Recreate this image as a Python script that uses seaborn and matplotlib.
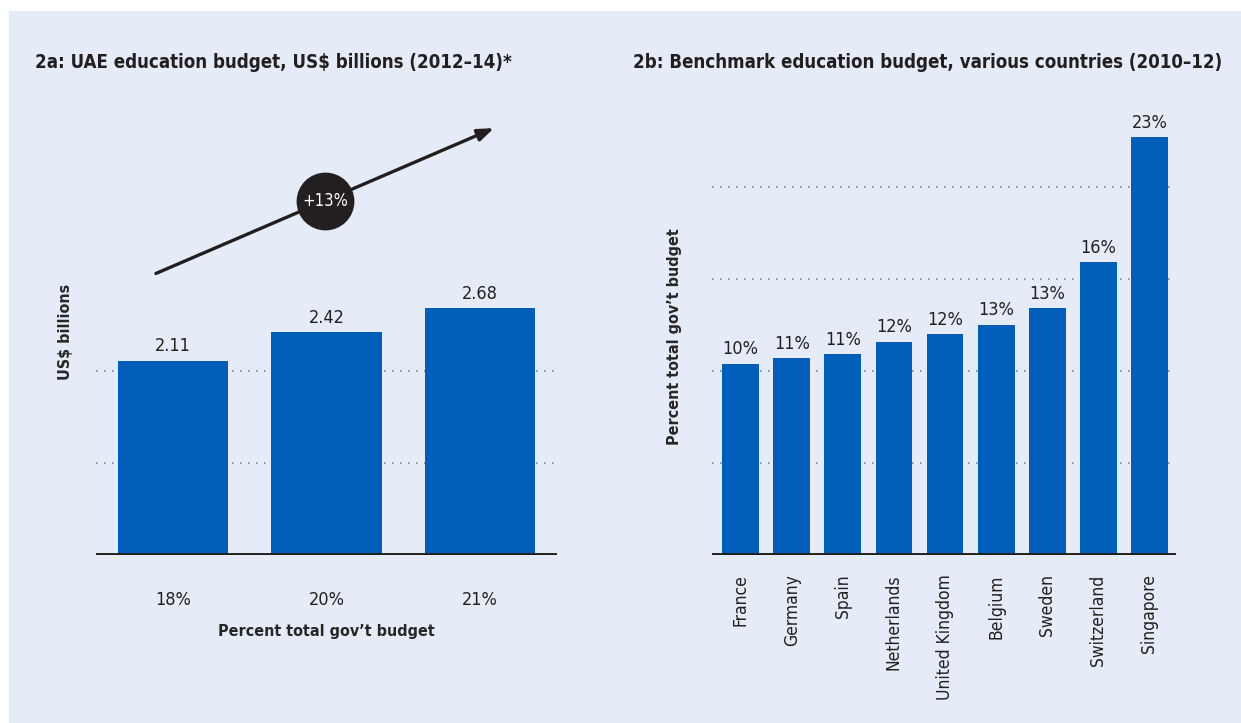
import matplotlib
matplotlib.use("Agg")
import matplotlib.pyplot as plt
from matplotlib.patches import Rectangle
import seaborn as sns

# 2a: UAE education budget
uae_years = ["2012", "2013", "2014"]
uae_budget = [2.11, 2.42, 2.68]
uae_share = ["18%", "20%", "21%"]

# 2b: benchmark countries
countries = ["France", "Germany", "Spain", "Netherlands", "United Kingdom",
             "Belgium", "Sweden", "Switzerland", "Singapore"]
country_share = [10.4, 10.7, 10.9, 11.6, 12.0, 12.5, 13.4, 15.9, 22.7]
country_labels = ["10%", "11%", "11%", "12%", "12%", "13%", "13%", "16%", "23%"]

BLUE = "#005eb8"
INK = "#231f20"
PANEL = "#e5ecf7"
GRID = "#8e939b"

sns.set_theme(style="white")
plt.rcParams["font.family"] = ["DejaVu Sans"]
plt.rcParams["font.stretch"] = "condensed"
plt.rcParams["text.color"] = INK

W, H = 1241, 723
fig = plt.figure(figsize=(W / 100, H / 100), dpi=100, facecolor="white")
fig.patches.append(Rectangle((9 / W, 0), 1, 1 - 11 / H, transform=fig.transFigure,
                             facecolor=PANEL, edgecolor="none", zorder=-10))

bottom = (H - 555) / H
height = (555 - 100) / H
ax1 = fig.add_axes([96 / W, bottom, 461 / W, height])
ax2 = fig.add_axes([712 / W, bottom, 464 / W, height])


def style_axes(ax, grid_vals, ymax, xlim):
    ax.set_facecolor("none")
    for s in ax.spines.values():
        s.set_visible(False)
    for g in grid_vals:
        ax.axhline(g, color=GRID, lw=1.5, ls=(0, (0.7, 3.14)), zorder=0)
    ax.axhline(0, color=INK, lw=2.8, zorder=5)
    ax.set_ylim(0, ymax)
    ax.set_xlim(*xlim)
    ax.set_yticks([])
    ax.tick_params(axis="x", length=0, labelsize=13, colors=INK)


# ---- left chart
df1 = {"year": uae_years, "budget": uae_budget}
sns.barplot(x="year", y="budget", data=df1, color=BLUE, saturation=1,
            width=0.72, linewidth=0, ax=ax1, zorder=2)
style_axes(ax1, [1, 2], 455 / 92, (-0.5, 2.5))
ax1.set_xticks(range(len(uae_share)))
ax1.set_xticklabels(uae_share)
ax1.tick_params(axis="x", pad=26)
ax1.set_xlabel("Percent total gov\u2019t budget", fontsize=11.5, fontweight="bold",
               labelpad=11)
ax1.set_ylabel("US$ billions", fontsize=11.5, fontweight="bold")
ax1.yaxis.set_label_coords(-0.05, 0.49)
for i, v in enumerate(uae_budget):
    ax1.text(i, v + 0.06, f"{v:.2f}", ha="center", va="bottom", fontsize=13)

# growth arrow with CAGR bubble
cagr = (uae_budget[-1] / uae_budget[0]) ** (1 / (len(uae_budget) - 1)) - 1
ax1.annotate("", xy=(2.09, 4.64), xytext=(-0.11, 3.06),
             arrowprops=dict(arrowstyle="-|>,head_length=0.8,head_width=0.3",
                             color=INK, lw=2.4, shrinkA=0, shrinkB=0))
ax1.scatter([0.99], [3.85], s=1650, color=INK, zorder=6, clip_on=False)
ax1.text(0.99, 3.85, f"+{cagr:.0%}", ha="center", va="center", color="white",
         fontsize=12, zorder=7)

# ---- right chart
df2 = {"country": countries, "share": country_share}
sns.barplot(x="country", y="share", data=df2, color=BLUE, saturation=1,
            width=0.72, linewidth=0, ax=ax2, zorder=2)
style_axes(ax2, [5, 10, 15, 20], 455 / 18.4, (-0.56, 8.52))
ax2.tick_params(axis="x", pad=14, labelsize=12.5)
plt.setp(ax2.get_xticklabels(), rotation=90)
ax2.set_xlabel("")
ax2.set_ylabel("Percent total gov\u2019t budget", fontsize=11.5, fontweight="bold")
ax2.yaxis.set_label_coords(-0.065, 0.48)
for i, (v, lab) in enumerate(zip(country_share, country_labels)):
    ax2.text(i, v + 0.3, lab, ha="center", va="bottom", fontsize=13)

fig.text(35 / W, 1 - 62 / H, "2a: UAE education budget, US$ billions (2012\u201314)*",
         fontsize=13.4, fontweight="bold", va="center", ha="left")
fig.text(633 / W, 1 - 62 / H, "2b: Benchmark education budget, various countries (2010\u201312)",
         fontsize=13.4, fontweight="bold", va="center", ha="left")

fig.savefig("out.png", dpi=100, facecolor=fig.get_facecolor())
